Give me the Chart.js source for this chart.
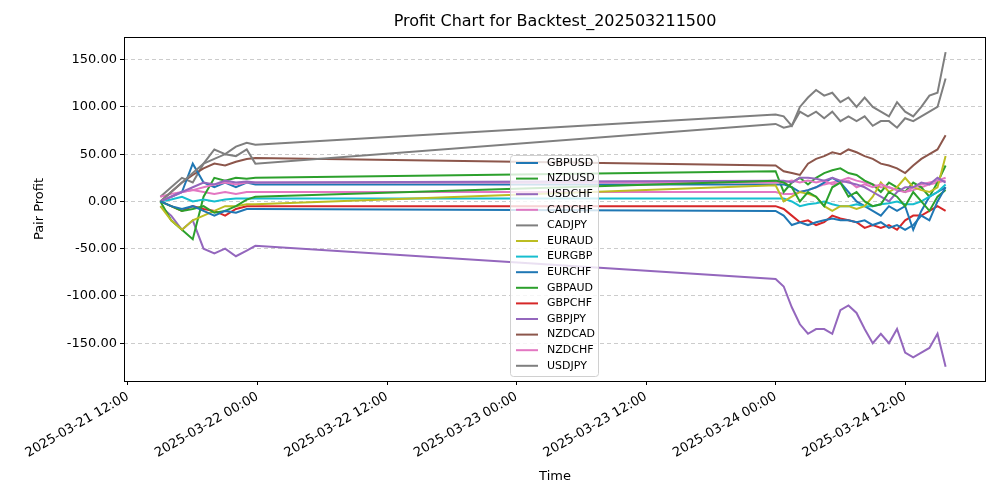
<!DOCTYPE html>
<html><head><meta charset="utf-8">
<script src="https://cdn.jsdelivr.net/npm/chart.js@4"></script>
<style>html,body{margin:0;padding:0;background:#fff}#w{width:1000px;height:500px}</style>
</head><body><div id="w"><canvas id="c"></canvas></div>
<script>
// hours since 2025-03-21 00:00
const times = [15,16,17,18,19,20,21,22,23,23.8,
  72,72.75,73.5,74.25,75,75.75,76.5,77.25,78,78.75,79.5,80.25,81,81.75,82.5,83.25,84,84.75,85.5,86.25,87,87.75];
const pairs = ["GBPUSD","NZDUSD","USDCHF","CADCHF","CADJPY","EURAUD","EURGBP","EURCHF","GBPAUD","GBPCHF","GBPJPY","NZDCAD","NZDCHF","USDJPY"];
const colors = ["#1f77b4","#2ca02c","#9467bd","#e377c2","#7f7f7f","#bcbd22","#17becf","#1f77b4","#2ca02c","#d62728","#9467bd","#8c564b","#e377c2","#7f7f7f"];
const GBPUSD = [0,-5,-8,-5,-10,-15,-10,-12,-8,-8, -10,-15,-25,-22,-25,-22,-20,-18,-20,-20,-22,-20,-25,-22,-28,-25,-30,-25,-15,-20,0,15];
const NZDUSD = [0,-5,-10,-8,-5,-12,-10,-5,2,5, 22,20,15,0,10,5,-5,15,20,5,10,0,-5,-3,10,5,-5,10,0,-10,5,12];
const USDCHF = [0,5,10,15,20,18,22,20,21,20, 22,22,20,25,25,24,22,25,22,20,18,15,10,5,0,10,15,15,20,18,25,20];
const CADCHF = [0,5,10,12,15,18,20,18,20,20, 20,20,22,20,22,20,22,18,20,22,15,18,15,18,15,12,10,15,18,20,22,25];
const CADJPY = [0,10,20,30,40,45,50,48,55,40, 82,78,80,95,90,95,88,95,85,90,85,90,80,85,85,78,88,85,90,95,100,130];
const EURAUD = [-5,-20,-30,-20,-15,-10,-5,-5,-3,-3, 17,0,5,10,8,5,-5,-10,-5,-5,-8,-5,5,20,10,15,25,15,12,10,15,48];
const EURGBP = [0,2,5,0,2,0,2,3,3,3, 3,3,0,-5,-3,-2,0,-3,-5,-5,-3,-5,-5,-3,-2,0,-3,-3,0,5,10,18];
const EURCHF = [0,5,10,40,20,15,20,15,20,18, 18,18,15,10,12,15,20,25,20,10,0,-5,-10,-15,-5,-10,-5,-30,-10,5,10,15];
const GBPAUD = [0,-20,-30,-40,5,25,22,25,24,25, 32,10,20,25,18,25,30,33,35,30,28,22,18,10,20,15,10,20,15,5,20,38];
const GBPCHF = [0,-5,-10,-5,-8,-10,-15,-8,-5,-5, -5,-8,-15,-22,-20,-25,-22,-15,-18,-20,-22,-28,-25,-28,-25,-30,-20,-15,-15,-10,-5,-10];
const GBPJPY = [-5,-15,-30,-20,-50,-55,-50,-58,-52,-47, -82,-90,-112,-130,-140,-135,-135,-140,-115,-110,-118,-135,-150,-140,-150,-135,-160,-165,-160,-155,-140,-175];
const NZDCAD = [0,10,20,28,35,40,38,42,45,46, 38,32,30,28,40,45,48,52,50,55,52,48,45,40,38,35,30,38,45,50,55,70];
const NZDCHF = [5,8,10,12,10,8,10,8,10,10, 10,8,8,10,12,15,18,20,22,25,22,20,18,15,15,12,10,12,15,18,20,22];
const USDJPY = [5,15,25,20,40,55,50,58,62,60, 92,90,80,100,110,118,112,115,105,110,100,110,100,95,90,105,95,90,100,112,115,158];
const seriesVals = [GBPUSD,NZDUSD,USDCHF,CADCHF,CADJPY,EURAUD,EURGBP,EURCHF,GBPAUD,GBPCHF,GBPJPY,NZDCAD,NZDCHF,USDJPY];
const yTicks = [-150,-100,-50,0,50,100,150];
const xTicks = [12,24,36,48,60,72,84];

function fmt(h){const d=21+Math.floor(h/24), hh=h%24;return "2025-03-"+String(d).padStart(2,"0")+" "+String(hh).padStart(2,"0")+":00";}

const datasets = pairs.map((p,i)=>({label:p,data:times.map((t,j)=>({x:t,y:seriesVals[i][j]})),borderColor:colors[i],backgroundColor:colors[i],borderWidth:2,pointRadius:0,tension:0}));

const deco = {id:'deco',afterDraw(ch){
  const c=ch.ctx,a=ch.chartArea;
  c.save();
  c.strokeStyle='#000';c.lineWidth=1;c.strokeRect(a.left+0.5,a.top+0.5,a.right-a.left,a.bottom-a.top);
  c.fillStyle='#000';c.textAlign='center';c.textBaseline='middle';
  c.font='16px "DejaVu Sans"';c.fillText('Profit Chart for Backtest_202503211500',555,22);
  c.font='13px "DejaVu Sans"';c.fillText('Time',555,477);
  c.translate(40,209);c.rotate(-Math.PI/2);c.fillText('Pair Profit',0,0);
  c.restore();
  // legend
  c.save();
  const lx=510,ly=155,lw=88,lh=221;
  c.fillStyle='rgba(255,255,255,0.8)';c.strokeStyle='#d0d0d0';c.lineWidth=1;
  c.beginPath();c.roundRect(lx+0.5,ly+0.5,lw,lh,3);c.fill();c.stroke();
  c.font='11px "DejaVu Sans"';c.textBaseline='middle';c.textAlign='left';
  pairs.forEach((p,i)=>{const y=ly+8+i*15.6;
    c.strokeStyle=colors[i];c.lineWidth=2;c.beginPath();c.moveTo(lx+6,y);c.lineTo(lx+28,y);c.stroke();
    c.fillStyle='#000';c.fillText(p,lx+37,y);});
  c.restore();
}};

new Chart(document.getElementById('c'),{type:'line',data:{datasets},
 options:{responsive:true,maintainAspectRatio:false,animation:false,
  layout:{padding:{top:37,right:15,left:0,bottom:0}},
  plugins:{legend:{display:false},tooltip:{enabled:false}},
  scales:{
   x:{type:'linear',min:11.63,max:91.4,
     afterBuildTicks(s){s.ticks=xTicks.map(v=>({value:v}));},
     afterFit(s){s.height=119;},
     grid:{drawOnChartArea:false,tickLength:4,color:'#000',drawTicks:true},border:{display:false},
     ticks:{color:'#000',font:{size:13,family:'DejaVu Sans'},maxRotation:30,minRotation:30,autoSkip:false,padding:4,callback:v=>fmt(v)}},
   y:{min:-190,max:174,
     afterBuildTicks(s){s.ticks=yTicks.map(v=>({value:v}));},
     afterFit(s){s.width=124;},
     grid:{color:'#cccccc',tickBorderDash:[],tickColor:'#000',tickLength:4},border:{display:false,dash:[4,3]},
     ticks:{color:'#000',font:{size:13,family:'DejaVu Sans'},padding:3,callback:v=>v.toFixed(2)}}
  }},plugins:[deco]});
</script></body></html>
